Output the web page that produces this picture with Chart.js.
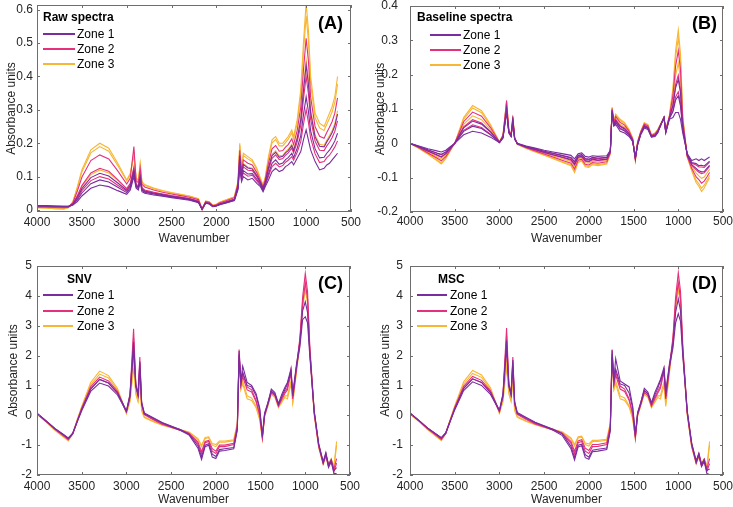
<!DOCTYPE html>
<html>
<head>
<meta charset="utf-8">
<script src="https://cdn.jsdelivr.net/npm/chart.js@4.4.1/dist/chart.umd.min.js"></script>
<style>
  body { margin: 0; background: #fff; width: 733px; height: 507px; overflow: hidden; position: relative;
         font-family: "Liberation Sans", Arial, sans-serif; }
  canvas { position: absolute; }
  .lg { position: absolute; font-size: 12px; line-height: 14px; color: #000; white-space: nowrap; }
  .lg b { font-weight: bold; }
  .ln { position: absolute; height: 1.6px; }
  .tag { position: absolute; font-size: 18px; line-height: 20px; font-weight: bold; color: #000; }
</style>
</head>
<body>
<canvas id="pA" width="366" height="253" style="left:0;top:0"></canvas>
<canvas id="pB" width="367" height="253" style="left:366px;top:0"></canvas>
<canvas id="pC" width="366" height="254" style="left:0;top:253px"></canvas>
<canvas id="pD" width="367" height="254" style="left:366px;top:253px"></canvas>

<!-- legendas -->
<div class="lg" style="left:43px;top:10px"><b>Raw spectra</b></div>
<div class="ln" style="left:43px;top:33px;width:32px;background:#7B2C9E"></div>
<div class="ln" style="left:43px;top:48px;width:32px;background:#E5307C"></div>
<div class="ln" style="left:43px;top:63px;width:32px;background:#F7B633"></div>
<div class="lg" style="left:77px;top:27px">Zone 1</div>
<div class="lg" style="left:77px;top:42px">Zone 2</div>
<div class="lg" style="left:77px;top:57px">Zone 3</div>
<div class="tag" style="left:318px;top:13px">(A)</div>

<div class="lg" style="left:417px;top:10px"><b>Baseline spectra</b></div>
<div class="ln" style="left:430px;top:34px;width:31px;background:#7B2C9E"></div>
<div class="ln" style="left:430px;top:49px;width:31px;background:#E5307C"></div>
<div class="ln" style="left:430px;top:64px;width:31px;background:#F7B633"></div>
<div class="lg" style="left:463px;top:28px">Zone 1</div>
<div class="lg" style="left:463px;top:43px">Zone 2</div>
<div class="lg" style="left:463px;top:58px">Zone 3</div>
<div class="tag" style="left:692px;top:13px">(B)</div>

<div class="lg" style="left:67px;top:272px"><b>SNV</b></div>
<div class="ln" style="left:43px;top:294px;width:30px;background:#7B2C9E"></div>
<div class="ln" style="left:43px;top:310px;width:30px;background:#E5307C"></div>
<div class="ln" style="left:43px;top:325px;width:30px;background:#F7B633"></div>
<div class="lg" style="left:77px;top:288px">Zone 1</div>
<div class="lg" style="left:77px;top:304px">Zone 2</div>
<div class="lg" style="left:77px;top:319px">Zone 3</div>
<div class="tag" style="left:318px;top:273px">(C)</div>

<div class="lg" style="left:438px;top:272px"><b>MSC</b></div>
<div class="ln" style="left:417px;top:294px;width:30px;background:#7B2C9E"></div>
<div class="ln" style="left:417px;top:310px;width:30px;background:#E5307C"></div>
<div class="ln" style="left:417px;top:325px;width:30px;background:#F7B633"></div>
<div class="lg" style="left:450px;top:288px">Zone 1</div>
<div class="lg" style="left:450px;top:304px">Zone 2</div>
<div class="lg" style="left:450px;top:319px">Zone 3</div>
<div class="tag" style="left:692px;top:273px">(D)</div>

<script>
// numeros de onda (cm-1)
const wn = [4000,3900,3800,3700,3650,3600,3550,3500,3400,3300,
  3200,3100,3000,2960,2920,2895,2870,2850,2830,2800,
  2700,2600,2500,2400,2300,2200,2160,2120,2080,2040,
  2000,1960,1900,1800,1760,1740,1720,1700,1650,1600,
  1550,1510,1480,1455,1420,1380,1340,1300,1260,1230,
  1200,1160,1140,1100,1060,1030,1000,975,950,900,
  850,800,770,740,710,680,650];

const xTicks = [4000,3500,3000,2500,2000,1500,1000,500];
const yTicksA = [0,0.1,0.2,0.3,0.4,0.5,0.6];
const yTicksB = [-0.2,-0.1,0,0.1,0.2,0.3,0.4];
const yTicksC = [-2,-1,0,1,2,3,4,5];
const yTicksD = [-2,-1,0,1,2,3,4,5];

// (A) raw spectra
const rawZ1a = [0.012,0.012,0.011,0.010,0.010,0.015,0.025,0.042,0.065,0.075,0.070,0.058,0.047,0.060,0.100,0.065,0.060,0.085,0.055,0.050,0.045,0.041,0.037,0.033,0.029,0.022,0.002,0.020,0.018,0.010,0.012,0.016,0.020,0.028,0.060,0.125,0.085,0.100,0.090,0.095,0.080,0.070,0.055,0.070,0.090,0.115,0.125,0.115,0.120,0.130,0.135,0.145,0.135,0.155,0.175,0.210,0.240,0.210,0.180,0.145,0.120,0.125,0.135,0.140,0.150,0.160,0.170];
const rawZ1b = [0.012,0.012,0.011,0.011,0.011,0.016,0.030,0.051,0.079,0.090,0.084,0.068,0.052,0.066,0.108,0.069,0.064,0.092,0.059,0.053,0.048,0.043,0.039,0.035,0.031,0.023,0.002,0.021,0.019,0.010,0.013,0.017,0.021,0.029,0.066,0.145,0.095,0.118,0.108,0.109,0.092,0.077,0.060,0.078,0.108,0.140,0.150,0.137,0.141,0.151,0.157,0.170,0.157,0.185,0.223,0.285,0.339,0.296,0.237,0.183,0.156,0.158,0.170,0.179,0.192,0.207,0.230];
const rawZ1c = [0.013,0.013,0.012,0.011,0.011,0.018,0.038,0.064,0.097,0.110,0.102,0.081,0.059,0.074,0.120,0.073,0.068,0.100,0.063,0.057,0.051,0.046,0.041,0.037,0.033,0.025,0.002,0.022,0.020,0.011,0.013,0.018,0.023,0.031,0.073,0.163,0.105,0.136,0.126,0.123,0.103,0.083,0.065,0.085,0.126,0.163,0.173,0.158,0.161,0.171,0.178,0.193,0.178,0.214,0.269,0.358,0.434,0.378,0.292,0.219,0.191,0.189,0.204,0.217,0.232,0.252,0.287];
const rawZ2a = [0.010,0.010,0.009,0.009,0.009,0.017,0.034,0.058,0.088,0.100,0.093,0.074,0.056,0.070,0.114,0.071,0.066,0.096,0.061,0.055,0.049,0.044,0.040,0.036,0.032,0.024,0.002,0.021,0.019,0.011,0.013,0.018,0.022,0.030,0.064,0.137,0.091,0.111,0.101,0.104,0.087,0.074,0.058,0.075,0.101,0.130,0.140,0.129,0.133,0.143,0.149,0.160,0.149,0.173,0.205,0.256,0.301,0.263,0.215,0.168,0.142,0.145,0.157,0.164,0.176,0.189,0.207];
const rawZ2b = [0.010,0.010,0.009,0.008,0.009,0.019,0.043,0.073,0.111,0.125,0.116,0.091,0.064,0.080,0.128,0.077,0.072,0.107,0.067,0.060,0.053,0.048,0.043,0.039,0.034,0.027,0.002,0.023,0.021,0.012,0.014,0.019,0.024,0.033,0.071,0.157,0.102,0.129,0.119,0.118,0.099,0.081,0.063,0.083,0.119,0.155,0.165,0.151,0.154,0.164,0.171,0.185,0.171,0.203,0.253,0.332,0.400,0.349,0.272,0.206,0.179,0.178,0.192,0.203,0.217,0.236,0.267];
const rawZ2c = [0.009,0.009,0.008,0.007,0.008,0.022,0.057,0.098,0.148,0.165,0.153,0.117,0.078,0.096,0.190,0.087,0.082,0.125,0.077,0.069,0.060,0.053,0.048,0.043,0.038,0.031,0.003,0.025,0.023,0.013,0.016,0.022,0.027,0.037,0.078,0.179,0.114,0.150,0.140,0.135,0.112,0.088,0.069,0.092,0.140,0.183,0.193,0.176,0.178,0.188,0.196,0.213,0.196,0.238,0.308,0.419,0.514,0.448,0.338,0.249,0.221,0.215,0.232,0.248,0.265,0.290,0.336];
const rawZ3a = [0.007,0.006,0.004,0.003,0.007,0.019,0.041,0.070,0.106,0.120,0.111,0.088,0.063,0.078,0.125,0.076,0.071,0.105,0.066,0.059,0.053,0.047,0.042,0.038,0.034,0.026,0.001,0.023,0.021,0.011,0.014,0.019,0.024,0.032,0.074,0.166,0.107,0.139,0.129,0.125,0.105,0.084,0.066,0.087,0.129,0.167,0.177,0.162,0.164,0.174,0.182,0.197,0.182,0.218,0.277,0.370,0.449,0.392,0.301,0.225,0.197,0.194,0.209,0.223,0.238,0.259,0.297];
const rawZ3b = [0.007,0.006,0.004,0.003,0.008,0.024,0.066,0.114,0.171,0.190,0.176,0.133,0.087,0.106,0.164,0.093,0.088,0.136,0.083,0.074,0.064,0.057,0.051,0.046,0.041,0.033,0.003,0.026,0.024,0.014,0.017,0.023,0.029,0.039,0.083,0.193,0.121,0.163,0.153,0.145,0.121,0.093,0.073,0.097,0.153,0.201,0.211,0.192,0.192,0.202,0.212,0.231,0.212,0.259,0.342,0.471,0.582,0.507,0.378,0.276,0.246,0.238,0.257,0.275,0.294,0.322,0.377];
const rawZ3c = [0.008,0.007,0.005,0.004,0.008,0.025,0.070,0.120,0.180,0.200,0.185,0.140,0.090,0.110,0.170,0.095,0.090,0.140,0.085,0.076,0.066,0.058,0.052,0.047,0.042,0.034,0.003,0.027,0.025,0.014,0.017,0.024,0.030,0.040,0.085,0.200,0.125,0.170,0.160,0.150,0.125,0.095,0.075,0.100,0.160,0.210,0.220,0.200,0.200,0.210,0.220,0.240,0.220,0.270,0.360,0.500,0.620,0.540,0.400,0.290,0.260,0.250,0.270,0.290,0.310,0.340,0.400];

// (B) baseline
const baseZ1a = [0.000,-0.008,-0.016,-0.022,-0.025,-0.020,-0.010,0.000,0.025,0.035,0.030,0.018,0.002,0.015,0.090,0.030,0.020,0.060,0.012,0.000,-0.008,-0.014,-0.020,-0.025,-0.030,-0.035,-0.045,-0.030,-0.028,-0.038,-0.040,-0.036,-0.038,-0.036,-0.020,0.090,0.050,0.055,0.035,0.030,0.020,0.005,-0.040,-0.005,0.025,0.045,0.040,0.018,0.020,0.030,0.050,0.075,0.030,0.070,0.075,0.090,0.090,0.070,0.030,-0.030,-0.050,-0.045,-0.050,-0.045,-0.050,-0.045,-0.040];
const baseZ1b = [0.000,-0.009,-0.019,-0.028,-0.032,-0.025,-0.012,0.000,0.035,0.050,0.043,0.025,0.002,0.017,0.096,0.032,0.021,0.064,0.013,-0.001,-0.009,-0.016,-0.023,-0.029,-0.035,-0.041,-0.053,-0.035,-0.033,-0.044,-0.046,-0.041,-0.043,-0.041,-0.022,0.093,0.053,0.061,0.042,0.036,0.024,0.007,-0.042,-0.003,0.027,0.048,0.043,0.019,0.022,0.032,0.051,0.075,0.032,0.072,0.092,0.126,0.138,0.108,0.040,-0.032,-0.056,-0.059,-0.065,-0.064,-0.066,-0.059,-0.052];
const baseZ1c = [0.000,-0.011,-0.022,-0.033,-0.039,-0.030,-0.015,0.000,0.045,0.065,0.056,0.033,0.003,0.019,0.102,0.034,0.022,0.068,0.014,-0.001,-0.011,-0.018,-0.026,-0.033,-0.040,-0.047,-0.061,-0.040,-0.038,-0.050,-0.052,-0.046,-0.049,-0.046,-0.024,0.096,0.056,0.067,0.049,0.042,0.028,0.009,-0.044,-0.001,0.029,0.051,0.046,0.021,0.024,0.034,0.052,0.075,0.034,0.074,0.109,0.162,0.186,0.146,0.050,-0.034,-0.062,-0.073,-0.080,-0.083,-0.082,-0.073,-0.064];
const baseZ2a = [0.000,-0.010,-0.020,-0.029,-0.034,-0.026,-0.013,0.000,0.038,0.054,0.046,0.027,0.003,0.018,0.098,0.033,0.021,0.065,0.014,-0.001,-0.010,-0.017,-0.024,-0.030,-0.036,-0.043,-0.055,-0.036,-0.034,-0.046,-0.048,-0.043,-0.045,-0.042,-0.023,0.094,0.054,0.063,0.044,0.038,0.025,0.008,-0.043,-0.003,0.028,0.049,0.044,0.020,0.023,0.033,0.051,0.075,0.033,0.073,0.096,0.135,0.150,0.118,0.043,-0.033,-0.058,-0.063,-0.069,-0.069,-0.070,-0.063,-0.055];
const baseZ2b = [0.000,-0.011,-0.023,-0.035,-0.041,-0.031,-0.015,0.000,0.048,0.069,0.059,0.035,0.003,0.020,0.104,0.035,0.022,0.069,0.015,-0.001,-0.011,-0.019,-0.027,-0.034,-0.041,-0.049,-0.063,-0.041,-0.039,-0.052,-0.054,-0.048,-0.050,-0.047,-0.025,0.097,0.057,0.069,0.051,0.044,0.029,0.010,-0.045,0.000,0.030,0.052,0.047,0.021,0.025,0.035,0.052,0.075,0.035,0.075,0.113,0.171,0.198,0.156,0.053,-0.035,-0.064,-0.077,-0.084,-0.088,-0.086,-0.077,-0.067];
const baseZ2c = [0.000,-0.013,-0.028,-0.043,-0.051,-0.039,-0.019,0.000,0.063,0.091,0.079,0.046,0.004,0.023,0.125,0.038,0.024,0.075,0.017,-0.002,-0.013,-0.022,-0.031,-0.040,-0.049,-0.058,-0.075,-0.049,-0.046,-0.061,-0.063,-0.056,-0.058,-0.054,-0.028,0.101,0.061,0.078,0.061,0.053,0.035,0.013,-0.048,0.003,0.033,0.056,0.051,0.023,0.028,0.038,0.054,0.075,0.038,0.078,0.139,0.225,0.270,0.213,0.068,-0.038,-0.073,-0.098,-0.106,-0.116,-0.110,-0.098,-0.085];
const baseZ3a = [0.000,-0.012,-0.026,-0.039,-0.046,-0.035,-0.017,0.000,0.055,0.080,0.069,0.040,0.003,0.021,0.108,0.036,0.023,0.072,0.016,-0.002,-0.012,-0.021,-0.029,-0.037,-0.045,-0.053,-0.069,-0.045,-0.042,-0.056,-0.058,-0.052,-0.054,-0.050,-0.026,0.099,0.059,0.073,0.056,0.048,0.032,0.011,-0.046,0.001,0.031,0.054,0.049,0.022,0.026,0.036,0.053,0.075,0.036,0.076,0.126,0.198,0.234,0.184,0.060,-0.036,-0.068,-0.087,-0.095,-0.102,-0.098,-0.087,-0.076];
const baseZ3b = [0.000,-0.014,-0.030,-0.047,-0.057,-0.043,-0.021,0.000,0.070,0.103,0.089,0.051,0.004,0.024,0.117,0.039,0.025,0.078,0.017,-0.003,-0.014,-0.024,-0.034,-0.043,-0.053,-0.062,-0.081,-0.053,-0.050,-0.065,-0.067,-0.059,-0.062,-0.058,-0.029,0.104,0.064,0.082,0.067,0.057,0.038,0.014,-0.049,0.004,0.034,0.059,0.054,0.024,0.029,0.039,0.055,0.075,0.039,0.079,0.152,0.252,0.306,0.241,0.075,-0.039,-0.077,-0.108,-0.118,-0.131,-0.122,-0.108,-0.094];
const baseZ3c = [0.000,-0.015,-0.032,-0.050,-0.060,-0.045,-0.022,0.000,0.075,0.110,0.095,0.055,0.004,0.025,0.120,0.040,0.025,0.080,0.018,-0.003,-0.015,-0.025,-0.035,-0.045,-0.055,-0.065,-0.085,-0.055,-0.052,-0.068,-0.070,-0.062,-0.065,-0.060,-0.030,0.105,0.065,0.085,0.070,0.060,0.040,0.015,-0.050,0.005,0.035,0.060,0.055,0.025,0.030,0.040,0.055,0.075,0.040,0.080,0.160,0.270,0.330,0.260,0.080,-0.040,-0.080,-0.115,-0.125,-0.140,-0.130,-0.115,-0.100];

// (C) SNV
const snvZ1a = [0.07,-0.18,-0.45,-0.66,-0.78,-0.62,-0.22,0.15,0.8,1.08,0.98,0.68,0.13,0.6,2.2,0.95,0.65,1.6,0.4,0.05,-0.1,-0.26,-0.38,-0.5,-0.66,-1.1,-1.48,-1.05,-1.0,-1.4,-1.45,-1.2,-1.18,-1.12,-0.5,2.0,1.05,1.45,1.0,0.95,0.65,0.2,-0.72,0.02,0.35,0.8,0.7,0.35,0.65,0.85,1.05,1.45,0.65,1.6,2.3,3.2,3.3,3.1,2.0,0.1,-0.98,-1.6,-1.3,-1.75,-1.55,-1.95,-1.95];
const snvZ1b = [0.06,-0.19,-0.44,-0.65,-0.76,-0.6,-0.2,0.2,0.88,1.2,1.08,0.75,0.15,0.7,2.45,1.0,0.7,1.8,0.45,0.08,-0.08,-0.24,-0.36,-0.48,-0.63,-1.02,-1.4,-1.0,-0.95,-1.3,-1.38,-1.15,-1.12,-1.08,-0.45,2.15,1.15,1.65,1.1,1.0,0.72,0.25,-0.65,0.08,0.4,0.88,0.76,0.4,0.72,0.92,1.1,1.55,0.72,1.68,2.45,3.5,3.8,3.45,2.15,0.15,-0.95,-1.55,-1.25,-1.68,-1.5,-1.85,-1.75];
const snvZ2a = [0.05,-0.2,-0.47,-0.7,-0.82,-0.63,-0.2,0.2,0.88,1.2,1.08,0.74,0.11,0.65,2.6,1.0,0.68,1.75,0.35,0.02,-0.15,-0.3,-0.4,-0.5,-0.62,-0.95,-1.3,-0.92,-0.88,-1.2,-1.28,-1.05,-1.05,-0.98,-0.4,2.05,1.0,1.3,0.85,0.78,0.45,0.0,-0.78,-0.02,0.35,0.75,0.65,0.3,0.55,0.72,0.85,1.4,0.55,1.5,2.5,3.7,4.45,3.9,2.2,0.05,-1.05,-1.62,-1.35,-1.72,-1.55,-1.9,-1.6];
const snvZ2b = [0.06,-0.19,-0.45,-0.68,-0.8,-0.6,-0.18,0.24,0.95,1.28,1.15,0.8,0.12,0.7,2.9,1.05,0.72,1.95,0.38,0.04,-0.13,-0.28,-0.38,-0.48,-0.6,-0.9,-1.22,-0.88,-0.84,-1.12,-1.2,-1.0,-1.0,-0.94,-0.35,2.2,1.05,1.4,0.95,0.85,0.5,0.05,-0.72,0.02,0.4,0.82,0.7,0.34,0.6,0.78,0.92,1.55,0.6,1.58,2.6,3.95,4.75,4.15,2.35,0.1,-1.0,-1.58,-1.28,-1.65,-1.48,-1.82,-1.45];
const snvZ3a = [0.03,-0.22,-0.5,-0.74,-0.86,-0.62,-0.16,0.27,1.02,1.38,1.25,0.85,0.05,0.45,1.6,0.7,0.45,1.15,0.15,-0.08,-0.22,-0.33,-0.42,-0.5,-0.58,-0.82,-1.05,-0.78,-0.75,-1.0,-1.05,-0.9,-0.9,-0.85,-0.3,1.85,0.85,1.05,0.55,0.5,0.25,-0.15,-0.8,-0.05,0.28,0.7,0.6,0.25,0.45,0.6,0.55,1.05,0.4,1.4,2.4,3.6,4.2,3.75,2.1,0.0,-1.08,-1.65,-1.4,-1.7,-1.5,-1.8,-1.0];
const snvZ3b = [0.04,-0.21,-0.48,-0.72,-0.83,-0.6,-0.14,0.3,1.1,1.48,1.33,0.9,0.08,0.5,1.9,0.8,0.5,1.3,0.2,-0.05,-0.2,-0.31,-0.4,-0.48,-0.56,-0.78,-1.0,-0.74,-0.72,-0.95,-0.98,-0.86,-0.86,-0.82,-0.25,1.95,0.9,1.15,0.65,0.58,0.3,-0.1,-0.75,0.0,0.32,0.76,0.65,0.28,0.5,0.65,0.65,1.15,0.45,1.48,2.5,3.75,4.35,3.9,2.2,0.05,-1.05,-1.6,-1.35,-1.62,-1.45,-1.72,-0.88];

// (D) MSC
const mscZ1a = [0.08,-0.17,-0.44,-0.65,-0.76,-0.6,-0.2,0.18,0.83,1.12,1.0,0.7,0.15,0.62,2.25,0.97,0.67,1.62,0.42,0.06,-0.09,-0.25,-0.37,-0.5,-0.67,-1.12,-1.5,-1.06,-1.02,-1.42,-1.47,-1.22,-1.2,-1.15,-0.52,1.95,1.1,1.55,1.05,1.0,0.75,0.25,-0.7,0.05,0.38,0.82,0.72,0.38,0.7,0.9,1.15,1.5,0.7,1.62,2.25,3.1,3.4,3.15,2.0,0.12,-0.96,-1.58,-1.32,-1.72,-1.55,-1.95,-1.98];
const mscZ1b = [0.07,-0.18,-0.43,-0.64,-0.75,-0.58,-0.18,0.22,0.9,1.22,1.1,0.77,0.17,0.72,2.5,1.02,0.72,1.85,0.47,0.09,-0.07,-0.23,-0.35,-0.47,-0.62,-1.04,-1.42,-1.0,-0.97,-1.32,-1.4,-1.17,-1.14,-1.1,-0.47,2.18,1.2,1.9,1.15,1.05,0.95,0.3,-0.62,0.1,0.42,0.9,0.78,0.42,0.78,0.98,1.2,1.6,0.8,1.7,2.4,3.45,3.9,3.5,2.15,0.16,-0.93,-1.52,-1.28,-1.66,-1.48,-1.85,-1.8];
const mscZ2a = [0.06,-0.19,-0.46,-0.69,-0.81,-0.62,-0.19,0.22,0.9,1.22,1.1,0.76,0.12,0.66,2.65,1.02,0.7,1.78,0.36,0.03,-0.14,-0.29,-0.39,-0.49,-0.61,-0.94,-1.3,-0.92,-0.88,-1.2,-1.28,-1.05,-1.04,-0.98,-0.4,2.05,1.02,1.35,0.88,0.8,0.5,0.02,-0.78,0.0,0.36,0.76,0.66,0.3,0.56,0.74,0.9,1.45,0.55,1.52,2.5,3.7,4.45,3.9,2.2,0.06,-1.04,-1.6,-1.35,-1.7,-1.55,-1.88,-1.62];
const mscZ2b = [0.07,-0.18,-0.44,-0.67,-0.79,-0.59,-0.17,0.26,0.97,1.3,1.17,0.82,0.13,0.72,2.92,1.07,0.74,1.95,0.39,0.05,-0.12,-0.27,-0.37,-0.47,-0.59,-0.88,-1.2,-0.86,-0.82,-1.1,-1.18,-0.98,-0.98,-0.92,-0.34,2.2,1.08,1.45,0.98,0.88,0.55,0.07,-0.7,0.04,0.42,0.84,0.72,0.35,0.62,0.8,0.98,1.55,0.62,1.6,2.6,3.95,4.78,4.15,2.35,0.1,-0.98,-1.55,-1.27,-1.63,-1.47,-1.8,-1.45];
const mscZ3a = [0.04,-0.21,-0.49,-0.73,-0.85,-0.61,-0.15,0.28,1.04,1.4,1.27,0.86,0.06,0.46,1.62,0.72,0.46,1.17,0.16,-0.07,-0.21,-0.32,-0.41,-0.49,-0.57,-0.8,-1.03,-0.76,-0.73,-0.98,-1.03,-0.88,-0.88,-0.84,-0.3,1.85,0.85,1.05,0.55,0.5,0.28,-0.12,-0.78,-0.03,0.3,0.7,0.6,0.25,0.45,0.6,0.55,1.0,0.3,1.4,2.4,3.6,4.2,3.75,2.1,0.0,-1.07,-1.63,-1.4,-1.68,-1.5,-1.78,-1.0];
const mscZ3b = [0.05,-0.2,-0.47,-0.71,-0.82,-0.59,-0.13,0.31,1.12,1.5,1.35,0.92,0.09,0.52,1.9,0.82,0.52,1.32,0.21,-0.04,-0.19,-0.3,-0.39,-0.47,-0.55,-0.76,-0.98,-0.72,-0.7,-0.93,-0.96,-0.84,-0.84,-0.8,-0.25,1.95,0.9,1.15,0.65,0.58,0.32,-0.08,-0.74,0.02,0.34,0.76,0.66,0.28,0.5,0.66,0.65,1.12,0.4,1.48,2.5,3.75,4.35,3.9,2.2,0.05,-1.04,-1.58,-1.35,-1.6,-1.45,-1.7,-0.88];

const cZone1 = '#7B2C9E', cZone2 = '#E5307C', cZone3 = '#F7B633';
const txt = '#262626';

// caixa e ticks para dentro (estilo matlab)
const boxPlugin = {
  id: 'box',
  afterDraw(chart) {
    const { ctx, chartArea: a, scales } = chart;
    ctx.save();
    ctx.strokeStyle = '#6e6e6e';
    ctx.lineWidth = 1;
    ctx.strokeRect(Math.round(a.left) + 0.5, Math.round(a.top) + 0.5,
      Math.round(a.right - a.left) - 1, Math.round(a.bottom - a.top) - 1);
    ctx.beginPath();
    scales.x.ticks.forEach(t => {
      const px = Math.round(scales.x.getPixelForValue(t.value)) + 0.5;
      ctx.moveTo(px, a.bottom); ctx.lineTo(px, a.bottom - 3);
      ctx.moveTo(px, a.top); ctx.lineTo(px, a.top + 3);
    });
    scales.y.ticks.forEach(t => {
      const py = Math.round(scales.y.getPixelForValue(t.value)) + 0.5;
      ctx.moveTo(a.left, py); ctx.lineTo(a.left + 3, py);
      ctx.moveTo(a.right, py); ctx.lineTo(a.right - 3, py);
    });
    ctx.stroke();
    ctx.restore();
  }
};

function makeSets(list) {
  return list.map(([arr, color]) => ({
    data: wn.map((x, i) => ({ x: x, y: arr[i] })),
    borderColor: color,
    borderWidth: 1.1,
    pointRadius: 0,
    tension: 0,
    fill: false
  }));
}

function drawPanel(id, sets, yMin, yMax, yTicks, lay) {
  new Chart(document.getElementById(id), {
    type: 'line',
    data: { datasets: makeSets(sets) },
    options: {
      responsive: false,
      animation: false,
      events: [],
      layout: { padding: { top: lay.top, right: lay.right, left: 0, bottom: 0 } },
      plugins: { legend: { display: false }, tooltip: { enabled: false } },
      scales: {
        x: {
          type: 'linear', reverse: true, min: 500, max: 4000,
          afterBuildTicks: s => { s.ticks = xTicks.map(v => ({ value: v })); },
          afterFit: s => { s.height = lay.xh; s.paddingLeft = 0; s.paddingRight = 0; },
          grid: { display: false, drawTicks: false },
          border: { display: false },
          ticks: { color: txt, font: { size: 12 }, padding: lay.xpad, maxRotation: 0, callback: v => String(v) },
          title: { display: true, text: 'Wavenumber', color: txt, font: { size: 12 }, padding: { top: 0, bottom: lay.tpad } }
        },
        y: {
          min: yMin, max: yMax,
          afterBuildTicks: s => { s.ticks = yTicks.map(v => ({ value: v })); },
          afterFit: s => { s.width = lay.yw; s.paddingTop = 0; s.paddingBottom = 0; },
          grid: { display: false, drawTicks: false },
          border: { display: false },
          ticks: { color: txt, font: { size: 12 }, padding: lay.ypad, callback: v => String(v) },
          title: { display: true, text: 'Absorbance units', color: txt, font: { size: 12 }, padding: { top: lay.ytp, bottom: 0 } }
        }
      }
    },
    plugins: [boxPlugin]
  });
}

drawPanel('pA', [[rawZ1a, cZone1], [rawZ1b, cZone1], [rawZ1c, cZone1],
  [rawZ2a, cZone2], [rawZ2b, cZone2], [rawZ2c, cZone2],
  [rawZ3a, cZone3], [rawZ3b, cZone3], [rawZ3c, cZone3]],
  -0.006, 0.614, yTicksA, { top: 5, right: 15, xh: 41, yw: 37, xpad: 3, ypad: 4, tpad: 7, ytp: 4 });

drawPanel('pB', [[baseZ1a, cZone1], [baseZ1b, cZone1], [baseZ1c, cZone1],
  [baseZ2a, cZone2], [baseZ2b, cZone2], [baseZ2c, cZone2],
  [baseZ3a, cZone3], [baseZ3b, cZone3], [baseZ3c, cZone3]],
  -0.2, 0.4, yTicksB, { top: 6, right: 10, xh: 41, yw: 44, xpad: 2, ypad: 12, tpad: 7, ytp: 7 });

drawPanel('pC', [[snvZ1a, cZone1], [snvZ1b, cZone1], [snvZ2a, cZone2],
  [snvZ2b, cZone2], [snvZ3a, cZone3], [snvZ3b, cZone3]],
  -2, 5, yTicksC, { top: 13, right: 16, xh: 32, yw: 37, xpad: 4, ypad: 5, tpad: 0, ytp: 6 });

drawPanel('pD', [[mscZ1a, cZone1], [mscZ1b, cZone1], [mscZ2a, cZone2],
  [mscZ2b, cZone2], [mscZ3a, cZone3], [mscZ3b, cZone3]],
  -2, 5, yTicksD, { top: 13, right: 10, xh: 32, yw: 44, xpad: 4, ypad: 7, tpad: 0, ytp: 12 });
</script>
</body>
</html>
